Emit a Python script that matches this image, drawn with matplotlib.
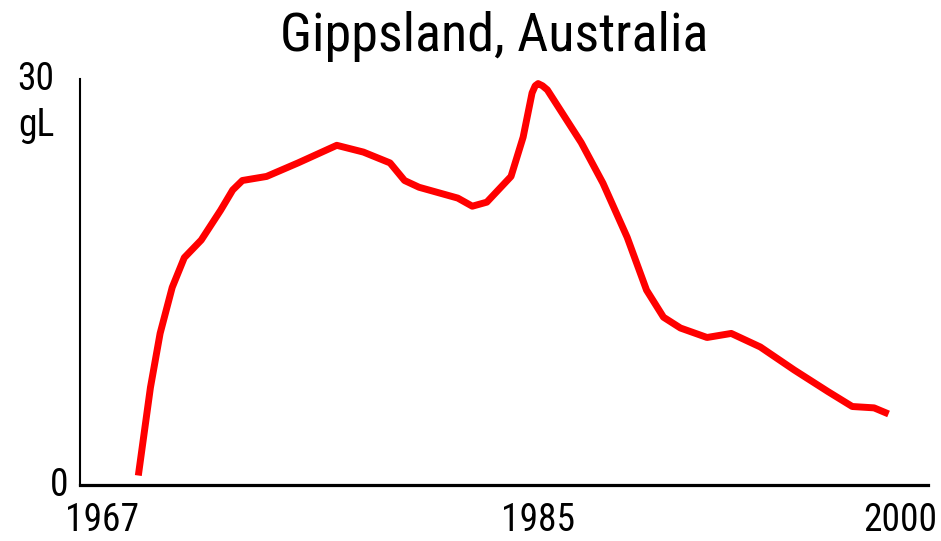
import matplotlib
matplotlib.use("Agg")
import matplotlib.pyplot as plt

plt.rcParams['font.family'] = ['Roboto Condensed', 'DejaVu Sans']

# values
years = [1968.5, 1969.0, 1969.4, 1969.9, 1970.4, 1971.1, 1971.9, 1972.4, 1972.8,
         1973.8, 1975.1, 1976.7, 1977.8, 1978.9, 1979.5, 1980.1, 1981.7, 1982.3,
         1982.9, 1983.9, 1984.4, 1984.77, 1984.9, 1985.02, 1985.2, 1985.4,
         1986.8, 1987.7, 1988.7, 1989.5, 1990.2, 1990.9, 1992.0, 1993.0, 1994.2,
         1995.6, 1997.0, 1998.0, 1998.9, 1999.5]
values = [0.7, 7.2, 11.2, 14.6, 16.8, 18.1, 20.3, 21.8, 22.5,
          22.8, 23.8, 25.1, 24.6, 23.8, 22.5, 22.0, 21.2, 20.6,
          20.9, 22.8, 25.7, 28.97, 29.5, 29.66, 29.5, 29.2,
          25.3, 22.3, 18.3, 14.4, 12.4, 11.6, 10.9, 11.2, 10.2,
          8.5, 6.9, 5.8, 5.7, 5.25]
xticks = [1967, 1985, 2000]
title = "Gippsland, Australia"
unit = "gL"

fig = plt.figure(figsize=(9.41, 5.41), dpi=100)
ax = fig.add_axes([80 / 941, 56 / 541, 848 / 941, 406 / 541])

ax.plot(years, values, color='#ff0000', linewidth=5,
        solid_joinstyle='round', solid_capstyle='butt')

ax.set_xlim(1966.09, 2001.13)
ax.set_ylim(0, 30)

for s in ['top', 'right']:
    ax.spines[s].set_visible(False)
ax.spines['left'].set_linewidth(1.5)
ax.spines['bottom'].set_linewidth(2.3)

ax.set_xticks(xticks)
ax.set_xticklabels([str(x) for x in xticks], fontsize=27)
ax.tick_params(axis='x', length=0, pad=12)
ax.set_yticks([])

# y labels placed by hand like the original
yt = ax.get_yaxis_transform()
ax.text(-0.0743, 30, "30", transform=yt, fontsize=27, ha='left', va='center')
ax.text(-0.0732, 26.6, unit, transform=yt, fontsize=27, ha='left', va='center')
ax.text(-0.0354, 0, "0", transform=yt, fontsize=27, ha='left', va='center')

fig.text(494 / 941, 1 - 36 / 541, title, fontsize=39, ha='center', va='center')

fig.savefig("out.png", dpi=100)
